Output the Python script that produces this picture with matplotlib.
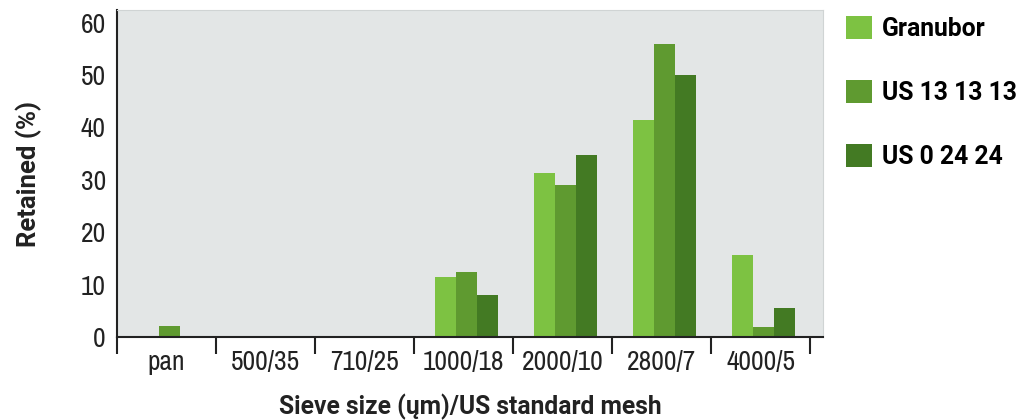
import numpy as np
import matplotlib.pyplot as plt
from matplotlib import font_manager
from matplotlib.patches import Patch

# prefer a condensed family for the plain texts if the system has one
fl = font_manager.fontManager.ttflist
cond = sorted({f.name for f in fl if 'Narrow' in f.name or 'Condensed' in f.name})
family = cond[0] if cond else 'Roboto'
bold_family = 'Roboto'
plt.rcParams['font.family'] = [family, 'DejaVu Sans']

# Sieve categories and retained percentages per product
sieves = ["pan", "500/35", "710/25", "1000/18", "2000/10", "2800/7", "4000/5"]
granubor = [0, 0, 0, 11.5, 31.3, 41.4, 15.7]
us_13 = [2.1, 0, 0, 12.5, 29.0, 55.9, 2.0]
us_0 = [0, 0, 0, 8.1, 34.7, 50.0, 5.5]

series_names = ["Granubor", "US 13 13 13", "US 0 24 24"]
colors = ["#7dc242", "#5f9a30", "#437a23"]

fig = plt.figure(figsize=(10.22, 4.2), dpi=100)
ax = fig.add_axes([0.1145, 0.1976, 0.691, 0.7786])
ax.set_facecolor("#e3e6e6")

x = np.arange(len(sieves))
w = 0.212
for i, (vals, c) in enumerate(zip([granubor, us_13, us_0], colors)):
    ax.bar(x + (i - 1) * w + 0.03, vals, width=w, color=c, linewidth=0, zorder=2)

ax.set_xlim(-0.5, 6.63)
ax.set_ylim(0, 62.4)
ax.set_yticks(range(0, 61, 10))
ax.tick_params(axis='y', length=0, labelsize=18, pad=8, colors="#222222")

# tick marks at category boundaries, labels centred
ax.set_xticks(np.arange(-0.5, 7, 1))
ax.set_xticklabels([])
ax.set_xticks(x, minor=True)
ax.set_xticklabels(sieves, minor=True)
ax.tick_params(axis='x', which='major', length=12, width=1.5, color="#222222", direction='out')
ax.tick_params(axis='x', which='minor', length=0, labelsize=18, pad=9, colors="#222222")

for s in ["top", "right"]:
    ax.spines[s].set_color("#d0d4d4")
    ax.spines[s].set_linewidth(0.8)
for s in ["left", "bottom"]:
    ax.spines[s].set_color("#222222")
    ax.spines[s].set_linewidth(1.5)

bold = dict(fontsize=17, fontweight='bold', color="#222222", family=[bold_family, 'DejaVu Sans'])
ax.set_ylabel("Retained (%)", labelpad=28, **bold)
ax.set_xlabel("Sieve size (ųm)/US standard mesh", labelpad=14, **bold)

# size texts so their widths match the original
fig.canvas.draw()
r = fig.canvas.get_renderer()


def fit(texts, ref, target, horiz=True):
    e = ref.get_window_extent(r)
    size = e.width if horiz else e.height
    k = target / size
    for t in texts:
        t.set_fontsize(t.get_fontsize() * k)


ticks = ax.get_xticklabels(minor=True) + ax.get_yticklabels()
ref_tick = [t for t in ax.get_xticklabels(minor=True) if t.get_text() == "1000/18"][0]
fit(ticks, ref_tick, 81)
fit([ax.xaxis.label], ax.xaxis.label, 382)
fit([ax.yaxis.label], ax.yaxis.label, 146, horiz=False)

# legend font size chosen so "US 13 13 13" spans about 135 px
probe = fig.text(0, 0, series_names[1], fontsize=17, fontweight='bold', family=[bold_family, 'DejaVu Sans'])
leg_size = 17 * 135 / probe.get_window_extent(r).width
probe.remove()
fs_px = leg_size * 100 / 72

handles = [Patch(facecolor=c, edgecolor='none') for c in colors]
fig.legend(handles, series_names, loc='upper left', bbox_to_anchor=(846 / 1022, 1 - 16 / 420),
           frameon=False, borderpad=0, borderaxespad=0,
           prop={'size': leg_size, 'weight': 'bold', 'family': [bold_family, 'DejaVu Sans']},
           handlelength=26 / fs_px, handleheight=26 / fs_px,
           labelspacing=(68 - 1.17 * fs_px) / fs_px, handletextpad=10 / fs_px)

fig.savefig("out.png", dpi=100)
